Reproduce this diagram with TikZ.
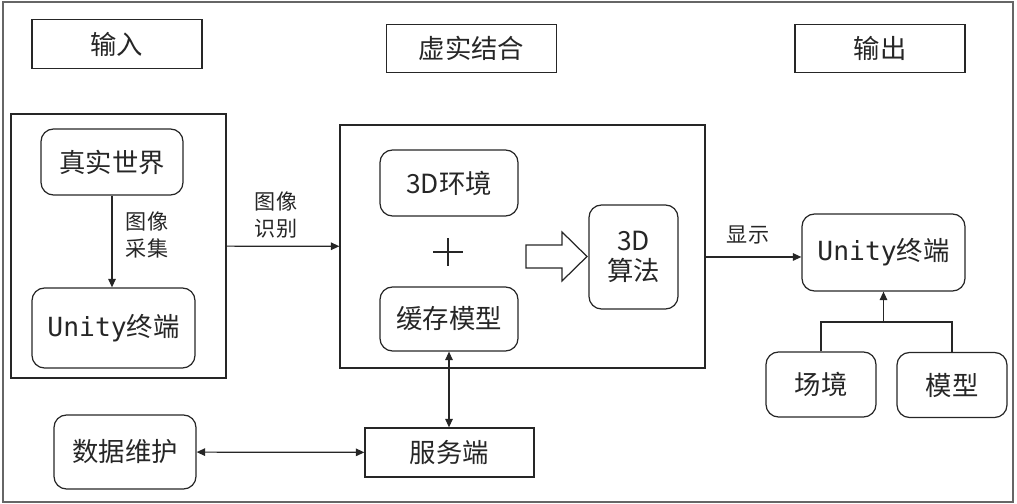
\documentclass[tikz,border=0pt]{standalone}
\usepackage{fontspec}
\setmainfont{Noto Sans CJK SC}
\newfontfamily\monofont{DejaVu Sans Mono}
\usetikzlibrary{arrows.meta}

\begin{document}
\begin{tikzpicture}[>={Triangle[length=1.7mm,width=1.5mm]}, color=black!85, line width=0.7pt,
        every node/.style={font=\fontsize{15}{17}\selectfont},
        sbox/.style={draw,rectangle,align=center,inner sep=0pt},
        rbox/.style={draw,rectangle,rounded corners=2.5mm,align=center,inner sep=0pt},
        title/.style={sbox,minimum width=3.4cm,minimum height=0.97cm},
        lbl/.style={font=\fontsize{12}{15}\selectfont,align=center}]
        \useasboundingbox (0,0) rectangle (20.34,10.08);
        \draw[black!60,line width=1pt] (0.06,0.04) rectangle (20.26,10.04);

        \node[title] (tin) at (2.34,9.20) {输入};
        \node[title] (tmix) at (9.43,9.11) {虚实结合};
        \node[title] (tout) at (17.60,9.11) {输出};

        % input side
        \node[draw,minimum width=4.3cm,minimum height=5.28cm] (inp) at (2.37,5.16) {};
        \node[rbox,minimum width=2.84cm,minimum height=1.32cm] (real) at (2.24,6.84) {真实世界};
        \node[rbox,minimum width=3.26cm,minimum height=1.6cm] (unity1) at (2.27,3.52) {{\monofont Unity}终端};
        \draw[->] (real.south) -- (real.south |- unity1.north);
        \node[lbl] (capt) at (2.94,5.38) {图像\\采集};

        % mixing
        \node[draw,minimum width=7.3cm,minimum height=4.86cm] (mix) at (10.45,5.15) {};
        \node[rbox,minimum width=2.76cm,minimum height=1.32cm] (env) at (8.98,6.42) {3D环境};
        \node[rbox,minimum width=2.76cm,minimum height=1.28cm] (cache) at (8.98,3.70) {缓存模型};
        \node[rbox,minimum width=1.78cm,minimum height=2.08cm] (algo) at (12.67,4.94) {3D\\算法};
        \draw (8.66,5.04) -- (9.26,5.04) (8.96,4.76) -- (8.96,5.32);
        \draw (10.52,5.18) -- (11.24,5.18) -- (11.24,5.44) -- (11.74,4.95)
            -- (11.24,4.46) -- (11.24,4.72) -- (10.52,4.72) -- cycle;
        \draw[->] (inp) -- (mix);
        \node[lbl] (recog) at (5.52,5.78) {图像\\识别};

        % output side
        \node[rbox,minimum width=3.26cm,minimum height=1.54cm] (unity2) at (17.67,5.03) {{\monofont Unity}终端};
        \draw[->] (mix.east |- algo) -- (unity2.west |- algo);
        \node[lbl] (show) at (14.96,5.38) {显示};
        \node[rbox,minimum width=2.2cm,minimum height=1.3cm] (scene) at (16.42,2.39) {场境};
        \node[rbox,minimum width=2.2cm,minimum height=1.3cm] (model) at (19.04,2.38) {模型};
        \coordinate (join) at (17.67,3.64);
        \draw (scene.north) |- (join) -| (model.north);
        \draw[->] (join) -- (unity2.south);

        % server
        \node[rbox,minimum width=2.84cm,minimum height=1.48cm] (maint) at (2.50,1.04) {数据维护};
        \node[sbox,minimum width=3.38cm,minimum height=0.98cm] (server) at (8.99,1.03) {服务端};
        \draw[<->] (maint) -- (server);
        \draw[<->] (cache.south) -- (cache.south |- server.north);
    \end{tikzpicture}
\end{document}
